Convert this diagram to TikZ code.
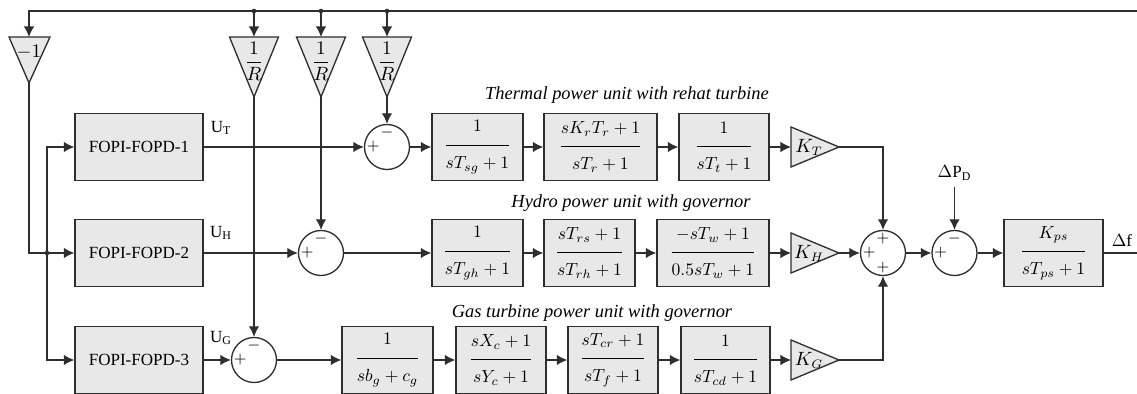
\documentclass[tikz,border=0pt]{standalone}
\usepackage{amsmath}
\usepackage{fontspec}
\setmainfont{Liberation Serif}
\usetikzlibrary{arrows.meta}
\definecolor{linegray}{HTML}{2E2E2E}
\definecolor{boxgray}{HTML}{E8E8E8}
\newcommand{\blkfrac}[2]{\dfrac{#1\rule[-6pt]{0pt}{0pt}}{#2\rule{0pt}{12pt}}}
\tikzset{
  blk/.style={draw=linegray, fill=boxgray, line width=0.75pt, minimum height=1.34cm, inner sep=0pt, font=\fontsize{10.2}{12}\selectfont},
  sumj/.style={circle, draw=linegray, fill=white, line width=0.75pt, minimum size=0.9cm, inner sep=0pt},
  sig/.style={-{Latex[length=6pt,width=6pt]}, draw=linegray, line width=0.75pt},
  wire/.style={draw=linegray, line width=0.75pt},
  gain/.style={draw=linegray, fill=boxgray, line width=0.75pt},
  sgn/.style={font=\fontsize{9}{9}\selectfont, inner sep=0pt},
  unitcap/.style={font=\fontsize{10.5}{12}\selectfont\itshape},
}
\begin{document}
\begin{tikzpicture}[x=0.02cm, y=-0.02cm, font=\fontsize{9.7}{11}\selectfont]
\useasboundingbox (0,0) rectangle (1137,394);
% controllers
\node[blk, minimum width=2.56cm, font=\fontsize{9.7}{11}\selectfont] (F1) at (139,147) {FOPI-FOPD-1};
\node[blk, minimum width=2.56cm, font=\fontsize{9.7}{11}\selectfont] (F2) at (139,253) {FOPI-FOPD-2};
\node[blk, minimum width=2.56cm, font=\fontsize{9.7}{11}\selectfont] (F3) at (139,360) {FOPI-FOPD-3};
\node at (221,128) {U\textsubscript{T}};
\node at (221,233) {U\textsubscript{H}};
\node at (221,338) {U\textsubscript{G}};
% summing junctions
\node[sumj] (S1) at (387,147) {};
\node[sumj] (S2) at (321,253) {};
\node[sumj] (S3) at (254,360) {};
\node[sumj] (SB) at (883,253) {};
\node[sumj] (S4) at (954.5,253) {};
\foreach \s in {S1,S2,S3,S4} {
  \node[sgn, below=1.5pt] at (\s.north) {$-$};
  \node[sgn, right=1.5pt] at (\s.west) {$+$};
}
\node[sgn, below=1.5pt] at (SB.north) {$+$};
\node[sgn, right=1.5pt] at (SB.west) {$+$};
\node[sgn, above=1.5pt] at (SB.south) {$+$};
% thermal unit
\node[unitcap] at (627,95) {Thermal power unit with rehat turbine};
\node[blk, minimum width=1.82cm] (T1) at (477.5,147) {$\blkfrac{1}{sT_{sg}+1}$};
\node[blk, minimum width=2.26cm] (T2) at (600.5,147) {$\blkfrac{sK_rT_r+1}{sT_r+1}$};
\node[blk, minimum width=1.80cm] (T3) at (724,147) {$\blkfrac{1}{sT_t+1}$};
% hydro unit
\node[unitcap] at (631,203) {Hydro power unit with governor};
\node[blk, minimum width=1.82cm] (H1) at (477.5,253) {$\blkfrac{1}{sT_{gh}+1}$};
\node[blk, minimum width=1.82cm] (H2) at (589.5,253) {$\blkfrac{sT_{rs}+1}{sT_{rh}+1}$};
\node[blk, minimum width=2.24cm] (H3) at (713,253) {$\blkfrac{-sT_w+1}{0.5sT_w+1}$};
% gas unit
\node[unitcap] at (592,313) {Gas turbine power unit with governor};
\node[blk, minimum width=1.82cm] (G1) at (387.5,360) {$\blkfrac{1}{sb_g+c_g}$};
\node[blk, minimum width=1.80cm] (G2) at (501,360) {$\blkfrac{sX_c+1}{sY_c+1}$};
\node[blk, minimum width=1.80cm] (G3) at (613,360) {$\blkfrac{sT_{cr}+1}{sT_f+1}$};
\node[blk, minimum width=1.78cm] (G4) at (725.5,360) {$\blkfrac{1}{sT_{cd}+1}$};
% power system
\node[blk, minimum width=1.98cm] (P) at (1053.5,253) {$\blkfrac{K_{ps}}{sT_{ps}+1}$};
\node (dP) at (954.5,173) {$\Delta$P\textsubscript{D}};
\node at (1122,241) {$\Delta$f};
\coordinate (out) at (1137,253);
% gains
\foreach \n/\y in {T/147,H/253,G/360} {
  \draw[gain] (791,\y-20) -- (839,\y) -- (791,\y+20) -- cycle;
  \node[font=\fontsize{10.5}{12}\selectfont] at (809,\y) {$K_\n$};
  \coordinate (K\n i) at (791,\y);
  \coordinate (K\n o) at (839,\y);
}
\draw[gain] (9,37) -- (50,37) -- (29,83) -- cycle;
\node[font=\fontsize{10.5}{12}\selectfont] at (29,52) {$-1$};
\coordinate (Nt) at (29,37);
\coordinate (Nb) at (29,83);
\coordinate (fbL) at (29,11);
\coordinate (fbR) at (1137,11);
\foreach \i/\x in {1/254,2/321,3/387} {
  \draw[gain] (\x-24.5,37) -- (\x+24.5,37) -- (\x,97) -- cycle;
  \node[font=\fontsize{11}{12}\selectfont] at (\x,61) {$\dfrac{1}{R}$};
  \coordinate (R\i t) at (\x,37);
  \coordinate (R\i b) at (\x,97);
  \coordinate (R\i d) at (\x,11);
  \fill[linegray] (R\i d) circle (1.3pt);
}
% feedback
\draw[sig] (fbR) -- (fbL) -- (Nt);
\foreach \i in {1,2,3} \draw[sig] (R\i d) -- (R\i t);
\coordinate (split) at (47,253);
\draw[sig] (Nb) |- (F2.west);
\fill[linegray] (split) circle (1.3pt);
\draw[sig] (split) |- (F1.west);
\draw[sig] (split) |- (F3.west);
% rows
\draw[sig] (F1) -- (S1);
\draw[sig] (R3b) -- (S1);
\draw[sig] (S1) -- (T1);
\draw[sig] (T1) -- (T2);
\draw[sig] (T2) -- (T3);
\draw[sig] (T3) -- (KTi);
\draw[sig] (KTo) -| (SB);
\draw[sig] (F2) -- (S2);
\draw[sig] (R2b) -- (S2);
\draw[sig] (S2) -- (H1);
\draw[sig] (H1) -- (H2);
\draw[sig] (H2) -- (H3);
\draw[sig] (H3) -- (KHi);
\draw[sig] (KHo) -- (SB);
\draw[sig] (F3) -- (S3);
\draw[sig] (R1b) -- (S3);
\draw[sig] (S3) -- (G1);
\draw[sig] (G1) -- (G2);
\draw[sig] (G2) -- (G3);
\draw[sig] (G3) -- (G4);
\draw[sig] (G4) -- (KGi);
\draw[sig] (KGo) -| (SB);
\draw[sig] (SB) -- (S4);
\draw[sig] (dP) -- (S4);
\draw[sig] (S4) -- (P);
\draw[wire] (P) -- (out);
\end{tikzpicture}
\end{document}
